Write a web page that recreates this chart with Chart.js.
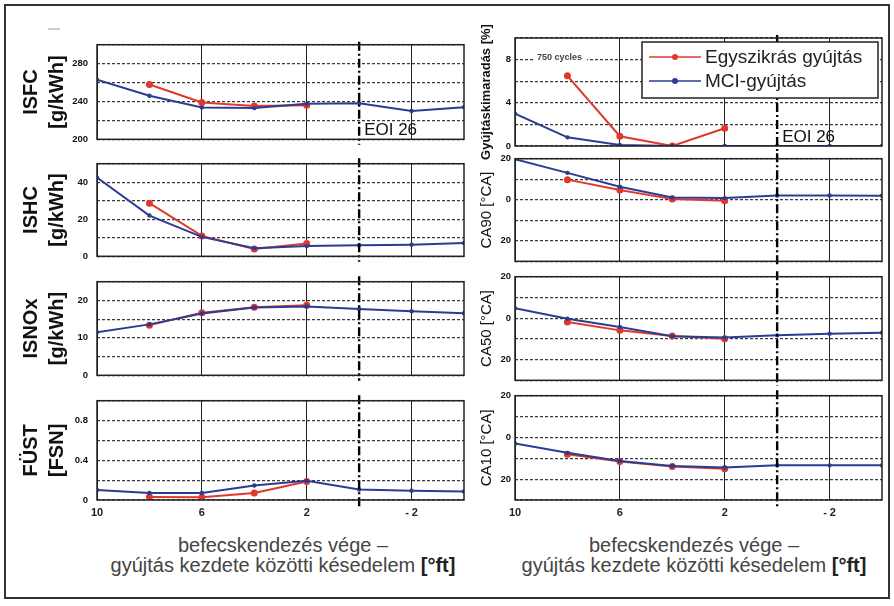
<!DOCTYPE html>
<html>
<head>
<meta charset="utf-8">
<script src="https://cdn.jsdelivr.net/npm/chart.js@4.4.1/dist/chart.umd.min.js"></script>
<style>
  body { margin: 0; background: #fff; }
  #wrap { position: relative; width: 894px; height: 606px; overflow: hidden; font-family: "Liberation Sans", Arial, sans-serif; }
  #frame { position: absolute; left: 4px; top: 4px; width: 882px; height: 591px; border: 2px solid #333; }
  #wrap canvas { position: absolute; }
  .xt { position: absolute; top: 535px; width: 400px; text-align: center; font-size: 20px; line-height: 20px; color: #444; white-space: nowrap; }
  .xt b { color: #222; }
  #mark { position: absolute; left: 48px; top: 28px; width: 12px; height: 2px; background: #ccc; }
</style>
</head>
<body>
<div id="wrap">
  <div id="frame"></div>
  <div id="mark"></div>
  <div class="xt" style="left:83px">befecskendezés vége –<br>gyújtás kezdete közötti késedelem <b>[°ft]</b></div>
  <div class="xt" style="left:494px">befecskendezés vége –<br>gyújtás kezdete közötti késedelem <b>[°ft]</b></div>
</div>
<script>
// x positions (delay, °ft)
var xBlue = [10, 8, 6, 4, 2, 0, -2, -4];
var xRed = [8, 6, 4, 2];
var xTickValues = [10, 6, 2, -2];

// left column
var isfcBlue = [263, 246, 233.7, 233, 237.5, 238, 230, 234];
var isfcRed = [258, 239, 235.3, 236];
var ishcBlue = [42.5, 22, 10.5, 4.4, 5.5, 6, 6.3, 7.2];
var ishcRed = [28.7, 11, 4, 6.9];
var isnoxBlue = [11.5, 13.6, 16.5, 18.1, 18.4, 17.7, 17.1, 16.6];
var isnoxRed = [13.4, 16.7, 18.2, 18.7];
var fustBlue = [0.1, 0.07, 0.07, 0.146, 0.193, 0.106, 0.093, 0.085];
var fustRed = [0.03, 0.028, 0.07, 0.187];

// right column
var misfireBlue = [3.0, 0.8, 0.1, 0, 0, 0, 0, 0];
var misfireRed = [6.5, 0.9, 0, 1.65];
var ca90Blue = [19.8, 13.1, 6.3, 1.1, 0.8, 2.1, 2.1, 2];
var ca90Red = [9.8, 4.7, 0.3, -0.5];
var ca50Blue = [4.8, -0.3, -4.3, -8.7, -9.4, -8.3, -7.5, -7];
var ca50Red = [-1.9, -5.9, -8.6, -10];
var ca10Blue = [-2.9, -7.4, -11.3, -13.7, -14.4, -13.4, -13.4, -13.4];
var ca10Red = [-8.1, -11.5, -14, -15];

var redLabel = "Egyszikrás gyújtás";
var blueLabel = "MCI-gyújtás";

var RED = "#e0392b";
var BLUE = "#2c3d91";

var rows = [
  { top: 38, bottom: 146 },
  { top: 157, bottom: 263 },
  { top: 275, bottom: 382 },
  { top: 394, bottom: 500 }
];

function pts(xs, ys) {
  return xs.map(function(x, i) { return { x: x, y: ys[i] }; });
}

var absFmt = function(v) { return String(Math.abs(v)); };
var plainFmt = function(v) { return String(Math.round(v * 10) / 10); };

var panels = [
  { col: 0, row: 0, title: ["ISFC", "[g/kWh]"], blue: isfcBlue, red: isfcRed, min: 200, max: 300, step: 20, labels: [200, 240, 280], fmt: plainFmt, eoi: true },
  { col: 0, row: 1, title: ["ISHC", "[g/kWh]"], blue: ishcBlue, red: ishcRed, min: 0, max: 50, step: 10, labels: [0, 20, 40], fmt: plainFmt },
  { col: 0, row: 2, title: ["ISNOx", "[g/kWh]"], blue: isnoxBlue, red: isnoxRed, min: 0, max: 25, step: 5, labels: [0, 10, 20], fmt: plainFmt },
  { col: 0, row: 3, title: ["FÜST", "[FSN]"], blue: fustBlue, red: fustRed, min: 0, max: 1, step: 0.2, labels: [0, 0.4, 0.8], fmt: plainFmt },
  { col: 1, row: 0, title: "Gyújtáskimaradás [%]", blue: misfireBlue, red: misfireRed, min: 0, max: 10, step: 2, labels: [0, 4, 8], fmt: plainFmt, eoi: true, legend: true, cycles: "750 cycles" },
  { col: 1, row: 1, title: "CA90 [°CA]", blue: ca90Blue, red: ca90Red, min: -30, max: 20, step: 10, labels: [20, 0, -20], fmt: absFmt },
  { col: 1, row: 2, title: "CA50 [°CA]", blue: ca50Blue, red: ca50Red, min: -30, max: 20, step: 10, labels: [20, 0, -20], fmt: absFmt },
  { col: 1, row: 3, title: "CA10 [°CA]", blue: ca10Blue, red: ca10Red, min: -30, max: 20, step: 10, labels: [20, 0, -20], fmt: absFmt }
];

var panelPlugin = {
  id: "panelDeco",
  afterDraw: function(chart) {
    var p = chart.options.plugins.panelDeco;
    var ctx = chart.ctx, ca = chart.chartArea;
    var xs = chart.scales.x, ys = chart.scales.y;
    ctx.save();

    // EOI dash-dot line at x = 0
    var x0 = xs.getPixelForValue(0);
    var top = p.row === 0 ? ca.top - 3 : ca.top - 5.5;
    var bot = p.row === 3 ? ca.bottom + 9 : ca.bottom + 5.5;
    ctx.strokeStyle = "#000";
    ctx.lineWidth = 2.4;
    ctx.setLineDash([9, 3, 2, 3]);
    ctx.beginPath();
    ctx.moveTo(x0, top);
    ctx.lineTo(x0, bot);
    ctx.stroke();
    ctx.setLineDash([]);

    // panel frame
    ctx.strokeStyle = "#222";
    ctx.lineWidth = 1.5;
    ctx.strokeRect(ca.left, ca.top, ca.right - ca.left, ca.bottom - ca.top);

    if (p.eoi) {
      ctx.fillStyle = "#111";
      ctx.font = "17px 'Liberation Sans', Arial, sans-serif";
      ctx.textBaseline = "alphabetic";
      ctx.textAlign = "left";
      ctx.fillText("EOI 26", x0 + 5, ca.bottom - 4);
    }

    if (p.cycles) {
      ctx.font = "bold 9px 'Liberation Sans', Arial, sans-serif";
      var tx = ca.left + 22, ty = ys.getPixelForValue(8) - 2;
      var tw = ctx.measureText(p.cycles).width;
      ctx.fillStyle = "#fff";
      ctx.fillRect(tx - 3, ty - 6, tw + 8, 11);
      ctx.fillStyle = "#444";
      ctx.textBaseline = "middle";
      ctx.fillText(p.cycles, tx, ty);
    }

    if (p.legend) {
      var w = 236, h = 56;
      var lx = ca.right - 4 - w, ly = ca.top + 4;
      ctx.fillStyle = "#fff";
      ctx.fillRect(lx, ly, w, h);
      ctx.strokeStyle = "#222";
      ctx.lineWidth = 1.5;
      ctx.strokeRect(lx, ly, w, h);
      ctx.font = "19px 'Liberation Sans', Arial, sans-serif";
      ctx.textBaseline = "middle";
      chart.data.datasets.forEach(function(ds, i) {
        var cy = ly + 15 + i * 24;
        ctx.strokeStyle = ds.borderColor;
        ctx.lineWidth = 1.5;
        ctx.beginPath();
        ctx.moveTo(lx + 7, cy);
        ctx.lineTo(lx + 59, cy);
        ctx.stroke();
        ctx.fillStyle = ds.pointBackgroundColor;
        ctx.beginPath();
        ctx.arc(lx + 33, cy, 3, 0, Math.PI * 2);
        ctx.fill();
        ctx.fillStyle = "#222";
        ctx.fillText(ds.label, lx + 63, cy + 1);
      });
    }
    ctx.restore();
  }
};

var wrap = document.getElementById("wrap");

panels.forEach(function(p) {
  var r = rows[p.row];
  var last = p.row === 3;
  var left = p.col === 0 ? 8 : 472;
  var width = p.col === 0 ? 462 : 416;
  var axisW = p.col === 0 ? 89 : 43;
  // the long rotated misfire title needs a taller canvas
  var padTop = (p.col === 1 && p.row === 0) ? 24 : 8;
  var padBot = last ? 0 : ((p.col === 1 && p.row === 0) ? 18 : 8);
  var height = (r.bottom - r.top) + padTop + padBot + (last ? 28 : 0);

  var canvas = document.createElement("canvas");
  canvas.width = width;
  canvas.height = height;
  canvas.style.left = left + "px";
  canvas.style.top = (r.top - padTop) + "px";
  canvas.style.width = width + "px";
  canvas.style.height = height + "px";
  wrap.appendChild(canvas);

  var titleFont = p.col === 0
    ? { size: 20, weight: "bold", lineHeight: 1.3 }
    : (p.row === 0 ? { size: 13, weight: "bold", lineHeight: 1.2 } : { size: 15, lineHeight: 1.2 });
  var titlePad = p.col === 0 ? 10 : (p.row === 0 ? 7 : 6);

  new Chart(canvas.getContext("2d"), {
    type: "line",
    data: {
      datasets: [
        {
          label: redLabel,
          data: pts(xRed, p.red),
          borderColor: RED,
          backgroundColor: RED,
          pointBackgroundColor: RED,
          pointBorderColor: RED,
          pointRadius: 2.5,
          borderWidth: 2,
          lineTension: 0,
          fill: false,
          order: 2
        },
        {
          label: blueLabel,
          data: pts(xBlue, p.blue),
          borderColor: BLUE,
          backgroundColor: BLUE,
          pointBackgroundColor: BLUE,
          pointBorderColor: BLUE,
          pointRadius: 1.2,
          borderWidth: 2,
          lineTension: 0,
          fill: false,
          order: 1
        }
      ]
    },
    options: {
      responsive: false,
      animation: false,
      devicePixelRatio: 1,
      layout: { padding: { top: padTop, bottom: padBot, left: 0, right: 1 } },
      plugins: {
        legend: { display: false },
        tooltip: { enabled: false },
        panelDeco: { row: p.row, eoi: p.eoi, legend: p.legend, cycles: p.cycles }
      },
      scales: {
        x: {
          type: "linear",
          reverse: true,
          min: -4,
          max: 10,
          afterBuildTicks: function(s) {
            s.ticks = xTickValues.map(function(v) { return { value: v }; });
          },
          afterFit: function(s) { s.height = last ? 28 : 0; },
          grid: { color: "#222", lineWidth: 1, drawTicks: false },
          border: { display: false },
          ticks: {
            display: last,
            padding: 6,
            autoSkip: false,
            maxRotation: 0,
            color: "#222",
            font: { size: 11, weight: "bold" },
            callback: function(v) { return v < 0 ? "- " + Math.abs(v) : String(v); }
          }
        },
        y: {
          min: p.min,
          max: p.max,
          afterFit: function(s) { s.width = axisW; },
          grid: { color: "#3a3a3a", lineWidth: 1.2, drawTicks: false },
          border: { display: false, dash: [3, 2] },
          ticks: {
            stepSize: p.step,
            padding: p.col === 0 ? 9 : 4,
            color: "#111",
            font: { size: 9.5, weight: "bold" },
            callback: function(v) {
              var show = p.labels.some(function(l) { return Math.abs(l - v) < 1e-6; });
              return show ? p.fmt(v) : "";
            }
          },
          title: {
            display: true,
            text: p.title,
            color: "#111",
            font: titleFont,
            padding: { top: titlePad, bottom: 0 }
          }
        }
      }
    },
    plugins: [panelPlugin]
  });
});
</script>
</body>
</html>
